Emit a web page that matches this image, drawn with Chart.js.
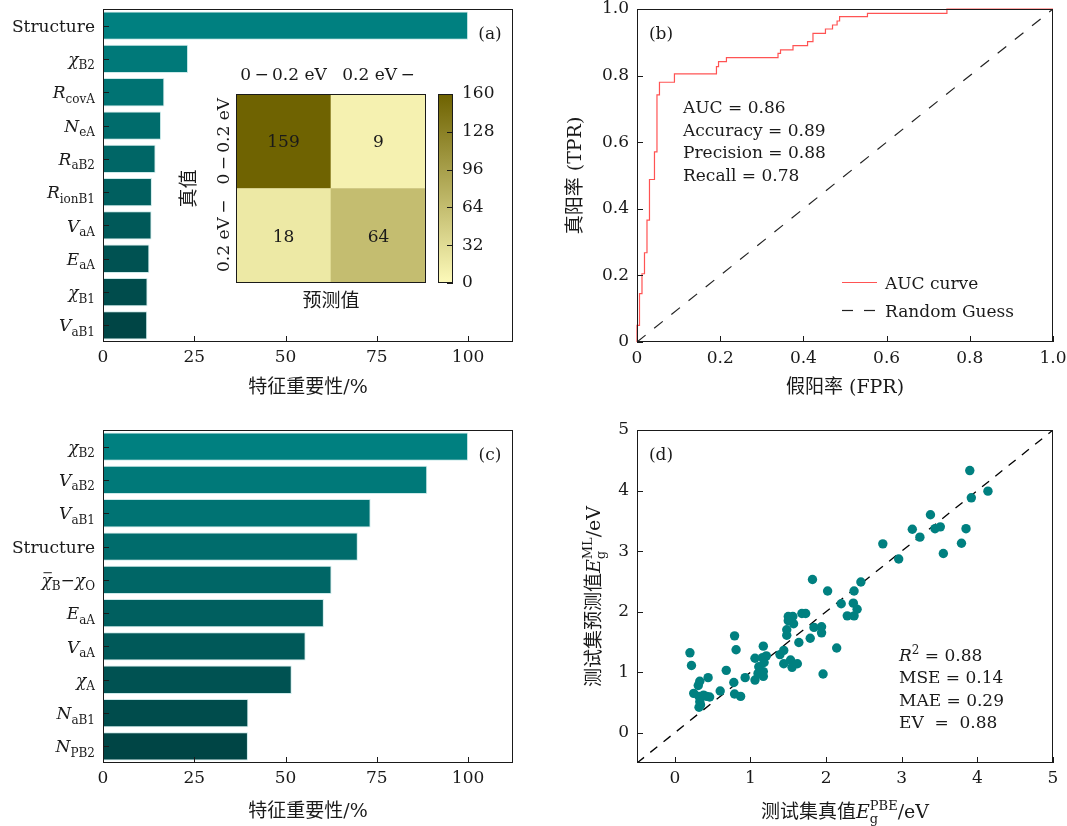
<!DOCTYPE html>
<html>
<head>
<meta charset="utf-8">
<script src="https://cdn.jsdelivr.net/npm/chart.js@4.4.1/dist/chart.umd.min.js"></script>
<style>
  html, body { margin: 0; padding: 0; background: #fff; }
  #fig { position: relative; width: 1067px; height: 826px; overflow: hidden; background: #fff; }
  #fig canvas { position: absolute; }
</style>
</head>
<body>
<div id="fig">
  <canvas id="cA" width="533" height="413" style="left:0;top:0"></canvas>
  <canvas id="cM" width="270" height="265" style="left:160px;top:55px"></canvas>
  <canvas id="cCB" width="70" height="220" style="left:430px;top:80px"></canvas>
  <canvas id="cB" width="534" height="413" style="left:533px;top:0"></canvas>
  <canvas id="cC" width="533" height="413" style="left:0;top:413px"></canvas>
  <canvas id="cD" width="534" height="413" style="left:533px;top:413px"></canvas>
</div>
<script>
// (a) feature importance of the classifier
const featA = ['Structure', 'χ_{B2}', 'R_{covA}', 'N_{eA}', 'R_{aB2}', 'R_{ionB1}', 'V_{aA}', 'E_{aA}', 'χ_{B1}', 'V_{aB1}'];
const impA = [100, 23.3, 16.8, 15.9, 14.4, 13.4, 13.3, 12.7, 12.2, 12.1];

// (a) inset: confusion matrix
const predLabels = ['0\u2009−\u20090.2 eV', '0.2 eV\u2009−'];
const trueLabels = ['0\u2009−\u20090.2 eV', '0.2 eV\u2009−'];
const cmTop = [159, 9];
const cmBottom = [18, 64];
const cmMax = 160;
const cbTicks = [0, 32, 64, 96, 128, 160];

// (b) ROC curve corners
const fpr = [0, 0, 0.006, 0.012, 0.018, 0.024, 0.030, 0.042, 0.048, 0.054,
  0.090, 0.191, 0.196, 0.215, 0.339, 0.345, 0.375, 0.410, 0.423, 0.453,
  0.470, 0.481, 0.487, 0.554, 0.745, 1.0];
const tpr = [0, 0.050, 0.145, 0.205, 0.268, 0.366, 0.488, 0.571, 0.742, 0.780,
  0.805, 0.827, 0.842, 0.854, 0.867, 0.877, 0.890, 0.902, 0.927, 0.940,
  0.952, 0.964, 0.977, 0.987, 1.0, 1.0];
const guess = [0, 1];
const rocTicks = [0, 0.2, 0.4, 0.6, 0.8, 1.0];
const statsB = ['AUC = 0.86', 'Accuracy = 0.89', 'Precision = 0.88', 'Recall = 0.78'];

// (c) feature importance of the regressor
const featC = ['χ_{B2}', 'V_{aB2}', 'V_{aB1}', 'Structure', '‾χ_{B}−χ_{O}', 'E_{aA}', 'V_{aA}', 'χ_{A}', 'N_{aB1}', 'N_{PB2}'];
const impC = [100, 88.8, 73.3, 69.8, 62.6, 60.5, 55.5, 51.7, 39.8, 39.7];
const impTicks = [0, 25, 50, 75, 100];

// (d) test set: PBE gap vs ML prediction
const xTrue = [3.90, 4.14, 3.92, 3.38, 3.14, 3.44, 3.51, 3.85, 3.24, 2.75,
  3.79, 2.96, 3.55, 1.82, 2.46, 2.02, 2.37, 2.20, 2.36, 2.41,
  2.28, 2.37, 1.68, 1.73, 1.50, 1.56, 1.50, 1.57, 1.48, 1.48,
  1.84, 1.94, 1.94, 1.64, 1.79, 2.14, 1.96, 0.79, 0.81, 1.17,
  1.21, 1.16, 1.06, 1.39, 1.44, 1.18, 1.11, 1.17, 1.10, 1.17,
  1.53, 1.44, 1.62, 1.55, 1.06, 0.93, 0.68, 0.60, 0.78, 0.79,
  0.87, 0.20, 0.22, 0.31, 0.33, 0.44, 0.25, 0.32, 0.38, 0.42,
  0.46, 0.33, 0.32, 0.34];
const yPred = [4.33, 3.99, 3.88, 3.60, 3.36, 3.37, 3.40, 3.37, 3.23, 3.12,
  3.13, 2.87, 2.96, 2.53, 2.49, 2.34, 2.34, 2.13, 2.14, 2.04,
  1.93, 1.93, 1.97, 1.97, 1.92, 1.92, 1.85, 1.80, 1.70, 1.61,
  1.74, 1.75, 1.65, 1.49, 1.56, 1.40, 0.97, 1.60, 1.37, 1.43,
  1.27, 1.24, 1.23, 1.29, 1.36, 1.16, 1.09, 1.01, 0.98, 0.93,
  1.20, 1.14, 1.14, 1.08, 0.87, 0.91, 1.03, 0.69, 0.83, 0.64,
  0.60, 1.32, 1.11, 0.78, 0.85, 0.91, 0.65, 0.60, 0.62, 0.60,
  0.59, 0.51, 0.42, 0.46];
const refLine = [-0.5, 5];
const eTicks = [0, 1, 2, 3, 4, 5];
const statsD = ['R^{2} = 0.88', 'MSE = 0.14', 'MAE = 0.29', 'EV  =  0.88'];

// styles
const INK = '#1a1a1a';
const TEAL = '#008080';
const SERIF = '"DejaVu Serif", "Noto Sans CJK SC", serif';
const barShades = ['#008080', '#007979', '#007373', '#006c6c', '#006666', '#005f5f', '#005959', '#005252', '#004c4c', '#004545'];
const cmLight = [253, 250, 186], cmDark = [110, 98, 0];
const cmap = t => 'rgb(' + cmLight.map((c, k) => Math.round(c + (cmDark[k] - c) * t)).join(',') + ')';

Chart.defaults.font.family = SERIF;
Chart.defaults.font.size = 17;
Chart.defaults.color = INK;
Chart.defaults.animation = false;
Chart.defaults.responsive = false;
Chart.defaults.plugins.legend.display = false;
Chart.defaults.plugins.tooltip.enabled = false;

const fnt = (size, style) => (style ? style + ' ' : '') + size + 'px ' + SERIF;
const fixW = w => s => { s.width = w; s.paddingTop = 0; s.paddingBottom = 0; };
const fixH = h => s => { s.height = h; s.paddingLeft = 0; s.paddingRight = 0; };
const useTicks = arr => s => { s.ticks = arr.map(v => ({ value: v })); };
const bare = () => ({ grid: { display: false, drawTicks: false }, border: { display: false } });

// tiny markup: X_{sub}, X^{sup}, ‾ = overline on next symbol
function parseRich(str) {
  const out = [];
  let buf = '', bar = false;
  for (let i = 0; i < str.length; i++) {
    const c = str[i];
    if (c === '‾') {
      if (buf) out.push({ t: buf, kind: 'main' });
      buf = ''; bar = true;
      continue;
    }
    if ((c === '_' || c === '^') && str[i + 1] === '{') {
      const end = str.indexOf('}', i);
      if (buf) {
        const base = buf.slice(-1), rest = buf.slice(0, -1);
        if (rest) out.push({ t: rest, kind: 'main' });
        out.push({ t: base, kind: 'main', italic: /[A-Za-zα-ω]/.test(base), bar });
        buf = ''; bar = false;
      }
      out.push({ t: str.slice(i + 2, end), kind: c === '_' ? 'sub' : 'sup' });
      i = end;
      continue;
    }
    buf += c;
  }
  if (buf) out.push({ t: buf, kind: 'main' });
  return out;
}

function drawRich(ctx, str, x, y, size, align) {
  const small = Math.round(size * 0.7);
  const laid = [];
  let cx = 0, lastScript = null;
  parseRich(str).forEach(p => {
    const f = p.kind === 'main' ? fnt(size, p.italic ? 'italic' : '') : fnt(small);
    ctx.font = f;
    const w = ctx.measureText(p.t).width;
    let px = cx;
    if (p.kind !== 'main' && lastScript && lastScript.kind !== p.kind) {
      px = lastScript.x;
      cx = px + Math.max(lastScript.w, w);
      lastScript = null;
    } else {
      cx = px + w;
      lastScript = p.kind === 'main' ? null : { kind: p.kind, x: px, w };
    }
    const dy = p.kind === 'sub' ? size * 0.26 : p.kind === 'sup' ? -size * 0.42 : 0;
    laid.push({ p, f, x: px, dy, w });
  });
  const x0 = align === 'right' ? x - cx : align === 'center' ? x - cx / 2 : x;
  const base = y + size * 0.36;
  ctx.textAlign = 'left';
  ctx.textBaseline = 'alphabetic';
  laid.forEach(l => {
    ctx.font = l.f;
    ctx.fillText(l.p.t, x0 + l.x, base + l.dy);
    if (l.p.bar) {
      ctx.save();
      ctx.strokeStyle = ctx.fillStyle;
      ctx.lineWidth = 1;
      ctx.beginPath();
      ctx.moveTo(x0 + l.x + 2, base - size * 0.78);
      ctx.lineTo(x0 + l.x + l.w, base - size * 0.78);
      ctx.stroke();
      ctx.restore();
    }
  });
}

// black box round the plot area, inward tick marks on the chosen scales
const frame = {
  id: 'frame',
  afterDatasetsDraw(chart, args, opts) {
    const { ctx, chartArea: a } = chart;
    ctx.save();
    ctx.strokeStyle = INK;
    ctx.lineWidth = 1;
    ctx.strokeRect(Math.round(a.left) + 0.5, Math.round(a.top) + 0.5, Math.round(a.width) - 1, Math.round(a.height) - 1);
    (opts.ticks || []).forEach(id => {
      const s = chart.scales[id];
      s.ticks.forEach(t => {
        const p = Math.round(s.getPixelForValue(t.value)) + 0.5;
        ctx.beginPath();
        if (s.isHorizontal()) {
          ctx.moveTo(p, a.bottom); ctx.lineTo(p, a.bottom - 6);
        } else if (s.position === 'right') {
          ctx.moveTo(a.right, p); ctx.lineTo(a.right - 6, p);
        } else {
          ctx.moveTo(a.left, p); ctx.lineTo(a.left + 6, p);
        }
        ctx.stroke();
      });
    });
    ctx.restore();
  }
};

const catLabels = {
  id: 'catLabels',
  afterDraw(chart) {
    const s = chart.scales.y, ctx = chart.ctx;
    ctx.save();
    ctx.fillStyle = INK;
    chart.data.labels.forEach((lab, i) => drawRich(ctx, lab, s.right - 8, s.getPixelForTick(i), 17, 'right'));
    ctx.restore();
  }
};

function textPlugin(id, fn) {
  return {
    id,
    afterDraw(chart) {
      const ctx = chart.ctx;
      ctx.save();
      ctx.fillStyle = INK;
      fn(ctx, chart.chartArea, chart);
      ctx.restore();
    }
  };
}

function importanceChart(id, labels, values, padTop, axisH, titlePad, tag) {
  return new Chart(document.getElementById(id), {
    type: 'bar',
    data: {
      labels,
      datasets: [{
        data: values,
        backgroundColor: barShades,
        borderColor: 'rgba(200,232,232,0.9)',
        borderWidth: 1,
        barPercentage: 0.85,
        categoryPercentage: 1
      }]
    },
    options: {
      indexAxis: 'y',
      layout: { padding: { left: 0, right: 20, top: padTop, bottom: 0 } },
      scales: {
        x: {
          ...bare(), min: 0, max: 112.3,
          afterBuildTicks: useTicks(impTicks),
          ticks: { padding: 5 },
          title: { display: true, text: '特征重要性/%', font: { size: 19 }, padding: { top: 0, bottom: titlePad } },
          afterFit: fixH(axisH)
        },
        y: { ...bare(), ticks: { display: false }, afterFit: fixW(103) }
      },
      plugins: { frame: { ticks: ['x', 'y'] } }
    },
    plugins: [frame, catLabels, textPlugin('tag' + id, (ctx, a) => drawRich(ctx, tag, a.right - 23, a.top + 24, 17, 'center'))]
  });
}

// (a)
importanceChart('cA', featA, impA, 9, 71, 14, '(a)');

// (a) inset matrix
const cellText = {
  id: 'cellText',
  afterDatasetsDraw(chart) {
    const ctx = chart.ctx, a = chart.chartArea, s = chart.scales.y;
    ctx.save();
    ctx.fillStyle = INK;
    chart.data.datasets.forEach((ds, i) => {
      chart.getDatasetMeta(i).data.forEach((bar, j) => {
        drawRich(ctx, String(ds.counts[j]), bar.x, (bar.y + bar.base) / 2, 17, 'center');
      });
    });
    trueLabels.forEach((lab, i) => {
      ctx.save();
      ctx.translate(a.left - 13, s.getPixelForValue(1.5 - i));
      ctx.rotate(-Math.PI / 2);
      drawRich(ctx, lab, 0, 0, 17, 'center');
      ctx.restore();
    });
    ctx.restore();
  }
};

new Chart(document.getElementById('cM'), {
  type: 'bar',
  data: {
    labels: predLabels,
    datasets: [
      { data: [1, 1], counts: cmBottom, backgroundColor: cmBottom.map(v => cmap(v / cmMax)), barPercentage: 1, categoryPercentage: 1, xAxisID: 'x', yAxisID: 'y' },
      { data: [1, 1], counts: cmTop, backgroundColor: cmTop.map(v => cmap(v / cmMax)), barPercentage: 1, categoryPercentage: 1, xAxisID: 'x', yAxisID: 'y' }
    ]
  },
  options: {
    layout: { padding: { left: 0, right: 4, top: 0, bottom: 0 } },
    scales: {
      x: { ...bare(), position: 'top', stacked: true, ticks: { padding: 8, maxRotation: 0 }, afterFit: fixH(39) },
      xb: {
        ...bare(), type: 'category', position: 'bottom', ticks: { display: false },
        title: { display: true, text: '预测值', font: { size: 19 }, padding: { top: 0, bottom: 7 } },
        afterFit: fixH(37)
      },
      y: {
        ...bare(), stacked: true, min: 0, max: 2, ticks: { display: false },
        title: { display: true, text: '真值', font: { size: 19 }, padding: { top: 19, bottom: 0 } },
        afterFit: fixW(76)
      }
    },
    plugins: { frame: { ticks: [] } }
  },
  plugins: [frame, cellText]
});

// (a) inset colour bar
new Chart(document.getElementById('cCB'), {
  type: 'bar',
  data: {
    labels: [''],
    datasets: [{
      data: [[0, cmMax]],
      backgroundColor: c => {
        const a = c.chart.chartArea;
        if (!a) return cmap(0.5);
        const g = c.chart.ctx.createLinearGradient(0, a.bottom, 0, a.top);
        g.addColorStop(0, cmap(0));
        g.addColorStop(1, cmap(1));
        return g;
      },
      barPercentage: 1,
      categoryPercentage: 1
    }]
  },
  options: {
    layout: { padding: { left: 8, right: 0, top: 14, bottom: 17 } },
    scales: {
      x: { display: false },
      y: { ...bare(), position: 'right', min: 0, max: cmMax, afterBuildTicks: useTicks(cbTicks), ticks: { padding: 9 }, afterFit: fixW(47) }
    },
    plugins: { frame: { ticks: ['y'] } }
  },
  plugins: [frame]
});

// (b)
const fmtRoc = v => (v === 0 ? '0' : v.toFixed(1));
new Chart(document.getElementById('cB'), {
  type: 'scatter',
  data: {
    datasets: [
      {
        label: 'AUC curve',
        data: fpr.map((x, i) => ({ x, y: tpr[i] })),
        showLine: true, stepped: 'before', borderColor: 'rgba(255,40,40,0.8)', borderWidth: 1.2,
        pointRadius: 0, clip: 3, order: 0
      },
      {
        label: 'Random Guess',
        data: guess.map(v => ({ x: v, y: v })),
        showLine: true, borderColor: '#222', borderWidth: 1.2, borderDash: [11, 11],
        pointRadius: 0, order: 1
      }
    ]
  },
  options: {
    layout: { padding: { left: 0, right: 14, top: 9, bottom: 0 } },
    scales: {
      x: {
        ...bare(), type: 'linear', min: 0, max: 1, afterBuildTicks: useTicks(rocTicks),
        ticks: { padding: 6, callback: fmtRoc },
        title: { display: true, text: '假阳率 (FPR)', font: { size: 19 }, padding: { top: 0, bottom: 14 } },
        afterFit: fixH(71)
      },
      y: {
        ...bare(), type: 'linear', min: 0, max: 1, afterBuildTicks: useTicks(rocTicks),
        ticks: { padding: 8, callback: fmtRoc },
        title: { display: true, text: '真阳率 (TPR)', font: { size: 19 }, padding: { top: 32, bottom: 0 } },
        afterFit: fixW(104)
      }
    },
    plugins: { frame: { ticks: ['x', 'y'] } }
  },
  plugins: [frame, textPlugin('notesB', (ctx, a, chart) => {
    drawRich(ctx, '(b)', a.left + 24, a.top + 24, 17, 'center');
    statsB.forEach((s, i) => drawRich(ctx, s, a.left + 46, a.top + 98 + i * 22.5, 17, 'left'));
    chart.data.datasets.forEach((ds, i) => {
      const y = Math.round(a.top + 273 + i * 28) + 0.5;
      ctx.save();
      ctx.strokeStyle = ds.borderColor;
      ctx.lineWidth = ds.borderWidth;
      ctx.setLineDash(ds.borderDash || []);
      ctx.beginPath();
      ctx.moveTo(a.left + 205, y);
      ctx.lineTo(a.left + 240, y);
      ctx.stroke();
      ctx.restore();
      drawRich(ctx, ds.label, a.left + 248, y, 17, 'left');
    });
  })]
});

// (c)
importanceChart('cC', featC, impC, 17, 63, 3, '(c)');

// (d)
new Chart(document.getElementById('cD'), {
  type: 'scatter',
  data: {
    datasets: [
      { data: xTrue.map((x, i) => ({ x, y: yPred[i] })), backgroundColor: TEAL, pointRadius: 4.7, borderWidth: 0, order: 0 },
      { data: refLine.map(v => ({ x: v, y: v })), showLine: true, borderColor: '#000', borderWidth: 1.3, borderDash: [9, 8], pointRadius: 0, order: 1 }
    ]
  },
  options: {
    layout: { padding: { left: 0, right: 14, top: 17, bottom: 0 } },
    scales: {
      x: { ...bare(), type: 'linear', min: -0.5, max: 5, afterBuildTicks: useTicks(eTicks), ticks: { padding: 5 }, afterFit: fixH(63) },
      y: { ...bare(), type: 'linear', min: -0.5, max: 5, afterBuildTicks: useTicks(eTicks), ticks: { padding: 8 }, afterFit: fixW(104) }
    },
    plugins: { frame: { ticks: ['x', 'y'] } }
  },
  plugins: [frame, textPlugin('notesD', (ctx, a) => {
    drawRich(ctx, '(d)', a.left + 24, a.top + 24, 17, 'center');
    statsD.forEach((s, i) => drawRich(ctx, s, a.left + 262, a.top + 225 + i * 22.3, 17, 'left'));
    drawRich(ctx, '测试集真值E_{g}^{PBE}/eV', (a.left + a.right) / 2, 398, 19, 'center');
    ctx.save();
    ctx.translate(60, (a.top + a.bottom) / 2);
    ctx.rotate(-Math.PI / 2);
    drawRich(ctx, '测试集预测值E_{g}^{ML}/eV', 0, 0, 19, 'center');
    ctx.restore();
  })]
});
</script>
</body>
</html>
